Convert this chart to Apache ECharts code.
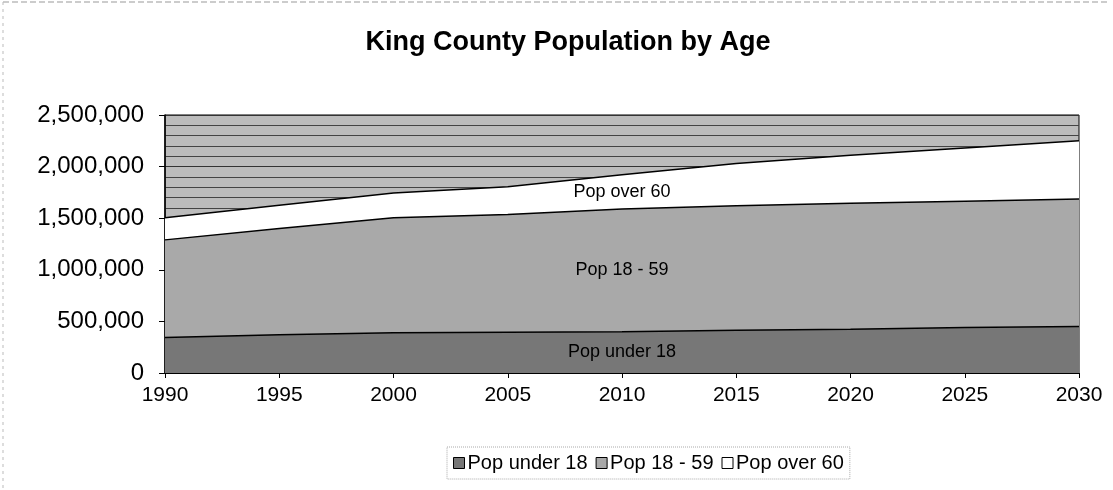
<!DOCTYPE html>
<html>
<head>
<meta charset="utf-8">
<script src="https://cdn.jsdelivr.net/npm/echarts@6/dist/echarts.min.js"></script>
<style>
html,body{margin:0;padding:0;background:#fff;}
#chart{width:1113px;height:490px;}
</style>
</head>
<body>
<div id="chart"></div>
<script>
// ---- data ----
const years = ['1990','1995','2000','2005','2010','2015','2020','2025','2030'];
const popUnder18 = [345000, 370000, 390000, 395000, 400000, 415000, 425000, 440000, 450000];
const pop18to59 = [945000, 1030000, 1115000, 1140000, 1190000, 1205000, 1220000, 1225000, 1236000];
const popOver60 = [215000, 225000, 240000, 270000, 330000, 410000, 465000, 515000, 564000];
const seriesNames = ['Pop under 18', 'Pop 18 - 59', 'Pop over 60'];
const labelIndex = 4; // 2010 column where the area labels sit

const FONT = '"Liberation Sans", Arial, sans-serif';
const colors = ['#777777', '#a9a9a9', '#ffffff'];
const seriesData = [popUnder18, pop18to59, popOver60];

function midOf(k) {
  let base = 0;
  for (let j = 0; j < k; j++) base += seriesData[j][labelIndex];
  return base + seriesData[k][labelIndex] / 2;
}

const chart = echarts.init(document.getElementById('chart'), null, {renderer: 'canvas'});

const series = seriesData.map((d, k) => ({
  name: seriesNames[k],
  type: 'line',
  stack: 'total',
  data: d,
  symbol: 'none',
  smooth: false,
  lineStyle: {color: '#000', width: 1.5},
  itemStyle: {color: colors[k], borderColor: '#000', borderWidth: 1},
  areaStyle: {color: colors[k], opacity: 1},
  emphasis: {disabled: true},
  markPoint: {
    symbol: 'rect',
    symbolSize: 1,
    itemStyle: {color: 'rgba(0,0,0,0)'},
    label: {show: true, position: 'inside', formatter: seriesNames[k], color: '#000', fontSize: 18, fontFamily: FONT},
    data: [{coord: [labelIndex, midOf(k)]}]
  }
}));

chart.setOption({
  animation: false,
  backgroundColor: '#fff',
  textStyle: {fontFamily: FONT},
  title: {
    text: 'King County Population by Age',
    left: 563,
    textAlign: 'center',
    top: 24,
    textStyle: {fontSize: 27, fontWeight: 'bold', color: '#000', fontFamily: FONT}
  },
  grid: {
    left: 165, right: 34, top: 115, bottom: 117,
    show: true, backgroundColor: '#bcbcbc', borderColor: '#000', borderWidth: 1
  },
  legend: {
    top: 447,
    left: 447,
    icon: 'rect',
    itemWidth: 11,
    itemHeight: 11,
    itemGap: 8,
    padding: [6, 6],
    borderColor: '#aaa',
    borderWidth: 1,
    borderType: 'dotted',
    textStyle: {fontSize: 20, color: '#000', fontFamily: FONT, padding: [0, 0, 0, -2]},
    data: seriesNames.map((n, k) => ({name: n, itemStyle: {color: colors[k], borderColor: '#000', borderWidth: 1}}))
  },
  xAxis: {
    type: 'category',
    data: years,
    boundaryGap: false,
    axisLine: {show: true, lineStyle: {color: '#000', width: 1}},
    axisTick: {show: true, length: 5, lineStyle: {color: '#000'}},
    axisLabel: {fontSize: 21, color: '#000', margin: 12, fontFamily: FONT},
    splitLine: {show: false}
  },
  yAxis: {
    type: 'value',
    min: 0,
    max: 2500000,
    interval: 500000,
    axisLine: {show: true, lineStyle: {color: '#000', width: 1.5}},
    axisTick: {show: true, length: 6, lineStyle: {color: '#000'}},
    axisLabel: {
      fontSize: 24, color: '#000', margin: 21, fontFamily: FONT,
      formatter: v => v.toLocaleString('en-US')
    },
    splitLine: {show: true, lineStyle: {color: '#333', width: 1}},
    minorTick: {show: false, splitNumber: 5},
    minorSplitLine: {show: true, lineStyle: {color: '#444', width: 1}}
  },
  graphic: [
    {type: 'line', shape: {x1: 3, y1: 2, x2: 1110, y2: 2}, style: {stroke: '#999', lineWidth: 1, lineDash: [6, 3]}},
    {type: 'line', shape: {x1: 3, y1: 2, x2: 3, y2: 488}, style: {stroke: '#bbb', lineWidth: 1, lineDash: [3, 4]}}
  ],
  series: series
});
</script>
</body>
</html>
